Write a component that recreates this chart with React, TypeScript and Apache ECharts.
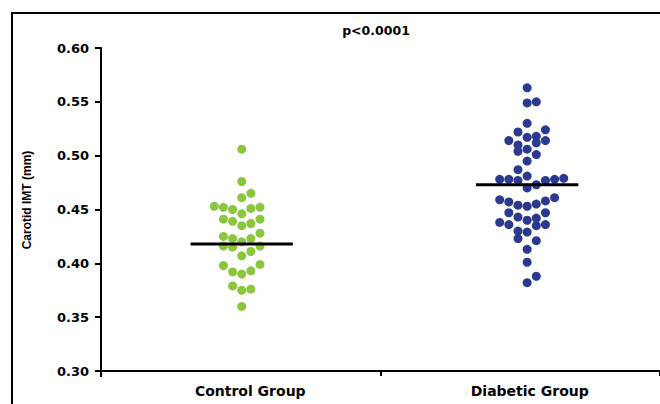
import React, { useEffect, useRef } from "react";
import * as echarts from "echarts";

const categories = ["Control Group", "Diabetic Group"];
const yTickMin = 0.3;
const yTickMax = 0.6;
const yTickStep = 0.05;
const pValueText = "p<0.0001";
const yAxisTitle = "Carotid IMT (mm)";

// Control group values (mm) and their beeswarm column slot
const controlValues = [
  0.506, 0.476, 0.461, 0.465, 0.453, 0.452, 0.450, 0.446, 0.451, 0.452,
  0.441, 0.439, 0.435, 0.437, 0.441, 0.425, 0.423, 0.420, 0.423, 0.428,
  0.416, 0.415, 0.411, 0.416, 0.407, 0.398, 0.392, 0.390, 0.393, 0.399,
  0.379, 0.375, 0.376, 0.360,
];
const controlSlots = [
  0, 0, 0, 1, -3, -2, -1, 0, 1, 2,
  -2, -1, 0, 1, 2, -2, -1, 0, 1, 2,
  -2, -1, 1, 2, 0, -2, -1, 0, 1, 2,
  -1, 0, 1, 0,
];

// Diabetic group values (mm) and their beeswarm column slot
const diabeticValues = [
  0.563, 0.549, 0.550, 0.530, 0.522, 0.524, 0.514, 0.517, 0.518, 0.514,
  0.510, 0.512, 0.504, 0.506, 0.501, 0.495, 0.487, 0.481, 0.478, 0.478,
  0.477, 0.477, 0.478, 0.479, 0.470, 0.473, 0.459, 0.457, 0.454, 0.453,
  0.455, 0.458, 0.461, 0.447, 0.443, 0.440, 0.442, 0.447, 0.438, 0.436,
  0.435, 0.436, 0.430, 0.429, 0.423, 0.421, 0.413, 0.401, 0.388, 0.382,
];
const diabeticSlots = [
  0, 0, 1, 0, -1, 2, -2, 0, 1, 2,
  -1, 1, -1, 0, 1, 0, -1, 0, -3, -2,
  -1, 2, 3, 4, 0, 1, -3, -2, -1, 0,
  1, 2, 3, -2, -1, 0, 1, 2, -3, -2,
  1, 2, -1, 0, -1, 1, 0, 0, 1, 0,
];

// Median lines
const medians = [0.418, 0.473];

const UNIT = 290; // px per group on the dot axis
const SLOT = 9.3 / UNIT; // column spacing in group units
const HALF_LINE = 52 / UNIT; // half width of median bar in group units
const WIDE_FONT = "'DejaVu Sans', Verdana, sans-serif";
const NARROW_FONT = "'Liberation Sans', Arial, Helvetica, sans-serif";

export default function App() {
  const ref = useRef<HTMLDivElement>(null);

  useEffect(() => {
    if (!ref.current) return;
    const chart = echarts.init(ref.current, undefined, { renderer: "svg" });

    const controlData = controlValues.map((v, i) => [0 + controlSlots[i] * SLOT, v]);
    const diabeticData = diabeticValues.map((v, i) => [1 + diabeticSlots[i] * SLOT, v]);

    const medianSeries = medians.map((m, g) => ({
      type: "line",
      xAxisIndex: 1,
      yAxisIndex: 0,
      data: [
        [g - HALF_LINE, m],
        [g + HALF_LINE, m],
      ],
      symbol: "none",
      lineStyle: { color: "#000", width: 3 },
      z: 5,
      silent: true,
    }));

    chart.setOption({
      animation: false,
      backgroundColor: "#fff",
      grid: { left: 101, right: -9, top: 48, bottom: 33, containLabel: false },
      xAxis: [
        {
          type: "category",
          data: categories,
          boundaryGap: true,
          axisLine: { onZero: false, lineStyle: { color: "#000", width: 2 } },
          axisTick: { show: true, length: 5, lineStyle: { color: "#000", width: 2 } },
          axisLabel: {
            color: "#000",
            fontWeight: "bold",
            fontSize: 14,
            fontFamily: WIDE_FONT,
            margin: 13,
            padding: [0, 0, 0, 19],
          },
          splitLine: { show: false },
        },
        {
          type: "value",
          min: -143 / UNIT,
          max: 425 / UNIT,
          show: false,
        },
      ],
      yAxis: {
        type: "value",
        min: yTickMin,
        max: yTickMax,
        interval: yTickStep,
        axisLine: { show: true, onZero: false, lineStyle: { color: "#000", width: 2 } },
        axisTick: { show: true, length: 6, lineStyle: { color: "#000", width: 2 } },
        axisLabel: {
          color: "#000",
          fontWeight: "bold",
          fontSize: 13,
          fontFamily: WIDE_FONT,
          margin: 12,
          formatter: (v: number) => v.toFixed(2),
        },
        splitLine: { show: false },
      },
      graphic: [
        {
          type: "line",
          shape: { x1: 12, y1: 13, x2: 700, y2: 13 },
          style: { stroke: "#000", lineWidth: 2 },
        },
        {
          type: "line",
          shape: { x1: 12, y1: 12, x2: 12, y2: 410 },
          style: { stroke: "#000", lineWidth: 2 },
        },
        {
          type: "line",
          shape: { x1: 101, y1: 370, x2: 101, y2: 377 },
          style: { stroke: "#000", lineWidth: 2 },
        },
        {
          type: "text",
          x: 376,
          y: 30,
          style: {
            text: pValueText,
            fill: "#000",
            font: `bold 12.5px ${WIDE_FONT}`,
            textAlign: "center",
            textVerticalAlign: "middle",
          },
        },
        {
          type: "text",
          x: 27,
          y: 200,
          rotation: Math.PI / 2,
          style: {
            text: yAxisTitle,
            fill: "#000",
            font: `bold 12px ${NARROW_FONT}`,
            textAlign: "center",
            textVerticalAlign: "middle",
          },
        },
      ],
      series: [
        {
          type: "scatter",
          xAxisIndex: 1,
          yAxisIndex: 0,
          data: controlData,
          symbol: "circle",
          symbolSize: 9,
          itemStyle: { color: "#8cc63f", opacity: 1 },
          z: 3,
        },
        {
          type: "scatter",
          xAxisIndex: 1,
          yAxisIndex: 0,
          data: diabeticData,
          symbol: "circle",
          symbolSize: 9,
          itemStyle: { color: "#2b3990", opacity: 1 },
          z: 3,
        },
        ...medianSeries,
      ],
    });

    return () => chart.dispose();
  }, []);

  return (
    <div
      ref={ref}
      style={{ position: "absolute", left: 0, top: 0, width: 660, height: 404 }}
    />
  );
}
